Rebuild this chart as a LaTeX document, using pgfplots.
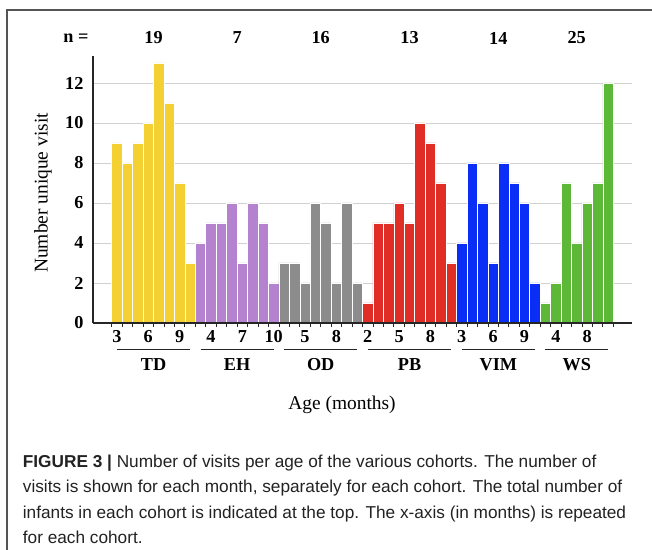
\documentclass[border=0pt]{standalone}
\usepackage{fontspec}
\setmainfont{Liberation Serif}
\setsansfont{Liberation Sans}
\usepackage{pgfplots}
\pgfplotsset{compat=1.18}
\definecolor{cTD}{HTML}{F5D033}
\definecolor{cEH}{HTML}{B482CF}
\definecolor{cOD}{HTML}{8C8C8C}
\definecolor{cPB}{HTML}{E02D26}
\definecolor{cVIM}{HTML}{0A2EF5}
\definecolor{cWS}{HTML}{5DB837}
\definecolor{frame}{HTML}{555555}
\definecolor{captxt}{HTML}{222222}
\newcommand\myboldfont{\fontsize{18.3}{20}\selectfont\bfseries}
\newcommand\mylabfont{\fontsize{19.5}{22}\selectfont}
\newcommand\mycapfont{\fontsize{17.3}{20}\selectfont\sffamily}
\begin{document}
\begin{tikzpicture}
\path[use as bounding box] (0,0) rectangle (652bp,550bp);
\fill[white] (0,0) rectangle (652bp,550bp);
\draw[frame, line width=1.3bp] (7bp,0) -- (7bp,540bp) -- (660bp,540bp);
\begin{axis}[
  at={(93bp,227bp)}, anchor=south west,
  scale only axis, width=539bp, height=267bp,
  xmin=-2.29, xmax=49.29, ymin=0, ymax=13.35,
  axis x line=bottom, axis y line=left,
  axis line style={-, line width=1.2bp, black!85},
  /pgf/number format/assume math mode=true,
  ytick={0,2,...,12},
  y tick style={draw=none},
  yticklabel style={font=\myboldfont, xshift=-2bp},
  ymajorgrids, grid style={black!18, line width=0.8bp},
  xtick={-0.5,0.5,...,47.5}, xticklabels={},
  x tick style={black!85, line width=0.8bp},
  tick align=outside, major tick length=4bp,
  extra x ticks={0,3,6,9,12,15,18,21,24,27,30,33,36,39,42,45},
  extra x tick labels={3,6,9,4,7,10,5,8,2,5,8,3,6,9,4,8},
  extra x tick style={major tick length=0pt, grid=none, tick label style={font=\myboldfont, yshift=-4bp}},
  clip=false,
]
\addplot[ybar, bar width=1, bar shift=0pt, fill=cTD, draw=white, line width=0.6bp] coordinates {(0,9)(1,8)(2,9)(3,10)(4,13)(5,11)(6,7)(7,3)};
\addplot[ybar, bar width=1, bar shift=0pt, fill=cEH, draw=white, line width=0.6bp] coordinates {(8,4)(9,5)(10,5)(11,6)(12,3)(13,6)(14,5)(15,2)};
\addplot[ybar, bar width=1, bar shift=0pt, fill=cOD, draw=white, line width=0.6bp] coordinates {(16,3)(17,3)(18,2)(19,6)(20,5)(21,2)(22,6)(23,2)};
\addplot[ybar, bar width=1, bar shift=0pt, fill=cPB, draw=white, line width=0.6bp] coordinates {(24,1)(25,5)(26,5)(27,6)(28,5)(29,10)(30,9)(31,7)(32,3)};
\addplot[ybar, bar width=1, bar shift=0pt, fill=cVIM, draw=white, line width=0.6bp] coordinates {(33,4)(34,8)(35,6)(36,3)(37,8)(38,7)(39,6)(40,2)};
\addplot[ybar, bar width=1, bar shift=0pt, fill=cWS, draw=white, line width=0.6bp] coordinates {(41,1)(42,2)(43,7)(44,4)(45,6)(46,7)(47,12)};
\draw[black!85, line width=1.2bp] (axis cs:-2.29,0) -- (axis cs:49.29,0);
\draw[black!85, line width=1bp] (axis cs:0,-1.35) -- (axis cs:7,-1.35);
\draw[black!85, line width=1bp] (axis cs:8,-1.35) -- (axis cs:15,-1.35);
\draw[black!85, line width=1bp] (axis cs:16,-1.35) -- (axis cs:23,-1.35);
\draw[black!85, line width=1bp] (axis cs:24,-1.35) -- (axis cs:32,-1.35);
\draw[black!85, line width=1bp] (axis cs:33,-1.35) -- (axis cs:40,-1.35);
\draw[black!85, line width=1bp] (axis cs:41,-1.35) -- (axis cs:47,-1.35);
\node[font=\myboldfont] at (axis cs:3.5,-2.1) {TD};
\node[font=\myboldfont] at (axis cs:11.5,-2.1) {EH};
\node[font=\myboldfont] at (axis cs:19.5,-2.1) {OD};
\node[font=\myboldfont] at (axis cs:28,-2.1) {PB};
\node[font=\myboldfont] at (axis cs:36.5,-2.1) {VIM};
\node[font=\myboldfont] at (axis cs:44,-2.1) {WS};
\node[font=\myboldfont] at (axis cs:3.5,14.25) {19};
\node[font=\myboldfont] at (axis cs:11.5,14.25) {7};
\node[font=\myboldfont] at (axis cs:19.5,14.25) {16};
\node[font=\myboldfont] at (axis cs:28,14.25) {13};
\node[font=\myboldfont] at (axis cs:36.5,14.25) {14};
\node[font=\myboldfont] at (axis cs:44,14.25) {25};
\end{axis}
\node[font=\myboldfont] at (76bp,512bp) {n =};
\node[font=\mylabfont, rotate=90] at (43bp,357bp) {Number unique visit};
\node[font=\mylabfont] at (342bp,145bp) {Age (months)};
\begin{scope}[captxt]
\node[font=\mycapfont, anchor=base west, inner sep=0pt] at (22.7bp,82bp) {\textbf{FIGURE 3 |} Number of visits per age of the various cohorts. The number of};
\node[font=\mycapfont, anchor=base west, inner sep=0pt] at (22.7bp,57bp) {visits is shown for each month, separately for each cohort. The total number of};
\node[font=\mycapfont, anchor=base west, inner sep=0pt] at (22.7bp,32bp) {infants in each cohort is indicated at the top. The x-axis (in months) is repeated};
\node[font=\mycapfont, anchor=base west, inner sep=0pt] at (22.7bp,7bp) {for each cohort.};
\end{scope}
\end{tikzpicture}
\end{document}
